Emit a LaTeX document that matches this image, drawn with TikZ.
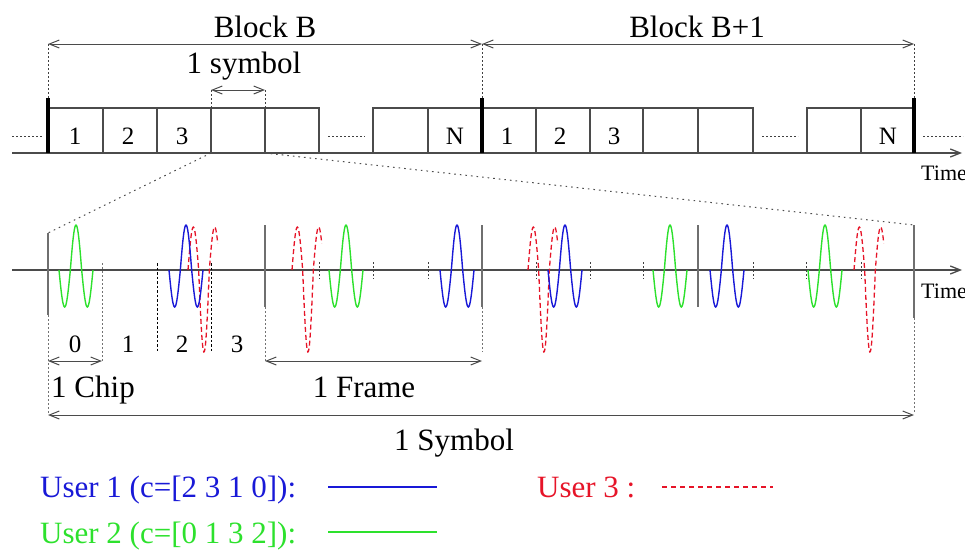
\documentclass[tikz,border=0pt]{standalone}
\usepackage{fontspec}
\setmainfont{Liberation Serif}
\usetikzlibrary{arrows.meta}

\definecolor{lineg}{RGB}{75,75,75}
\definecolor{ublue}{RGB}{25,25,215}
\definecolor{ugreen}{RGB}{45,225,45}
\definecolor{ured}{RGB}{230,20,40}

\tikzset{
  barb/.tip={Straight Barb[length=10pt,width=8pt]},
  axisline/.style={draw=lineg, line width=1.3pt},
  boxline/.style={draw=lineg, line width=1.1pt},
  thickbar/.style={draw=black, line width=4pt},
  dimarrow/.style={draw=lineg, line width=1pt, barb-barb},
  guide/.style={draw=black!75, line width=1pt, dash pattern=on 1.6pt off 2.4pt},
  zoomline/.style={draw=black!70, line width=1pt, dash pattern=on 1.6pt off 4pt},
  framebar/.style={draw=lineg!80, line width=1.3pt},
  chipdash/.style={draw=black, line width=0.9pt, dash pattern=on 2.5pt off 2pt},
  lbl/.style={font=\fontsize{31}{36}\selectfont, inner sep=0pt},
  numlbl/.style={font=\fontsize{25}{30}\selectfont, inner sep=0pt},
  timelbl/.style={font=\fontsize{22}{26}\selectfont, inner sep=0pt},
  bluepulse/.style={draw=ublue, line width=1.4pt},
  greenpulse/.style={draw=ugreen, line width=1.4pt},
  redpulse/.style={draw=ured, line width=1.3pt, dash pattern=on 5pt off 3pt},
  reddash/.style={draw=ured, line width=1.3pt, dash pattern=on 5pt off 4pt},
}

% monocycle-like pulse of users 1 and 2, centred at #1
\newcommand\wavelet[2]{\draw[#2] plot[domain=0:1,samples=61,smooth]
  ({#1-17+34*\x},{270-45*max(-sin(540*\x),0)-37*min(-sin(540*\x),0)});}
% pulse of user 3, centred at #1
\newcommand\redwave[1]{\draw[redpulse] plot[domain=0:0.93,samples=61,smooth]
  ({#1-16+32*\x},{270-43*max(sin(540*\x),0)-82*min(sin(540*\x),0)});}

\begin{document}
\begin{tikzpicture}[x=1pt,y=-1pt]
\useasboundingbox (0,0) rectangle (965,549);

% ---------- upper time line: blocks of N symbols ----------
\draw[axisline,-barb] (12,153) -- (962,153);
\foreach \a/\b in {48/103,103/157,157/211,211/265,265/319,373/428,428/482,
                   482/536,536/590,590/643,643/698,698/753,807/861,861/914}
  {\draw[boxline] (\a,108) rectangle (\b,153);}
\foreach \a/\b in {12/42,328/365,762/798,923/963}
  {\draw[guide] (\a,136) -- (\b,136);}
\foreach \x in {48,482,914}
  {\draw[thickbar] (\x,98) -- (\x,153);}

\foreach \n/\x/\t in {b1/75/1,b2/128/2,b3/182/3,bN/455/N,c1/507/1,c2/560/2,c3/614/3,cN/888/N}
  {\node[numlbl,anchor=base] (\n) at (\x,144) {\t};}

% block extents
\coordinate (bL) at (48,44);
\coordinate (bM) at (482,44);
\coordinate (bR) at (914,44);
\draw[guide] (bL) -- (48,98);
\draw[guide] (bM) -- (482,98);
\draw[guide] (bR) -- (914,98);
\draw[dimarrow] (bL) -- (bM);
\draw[dimarrow] (bM) -- (bR);
\node[lbl,anchor=base] (blockB) at (265,37) {Block B};
\node[lbl,anchor=base] (blockB1) at (697,37) {Block B+1};

% one symbol
\coordinate (sL) at (211,90);
\coordinate (sR) at (265,90);
\draw[guide] (sL) -- (211,108);
\draw[guide] (sR) -- (265,108);
\draw[dimarrow] (sL) -- (sR);
\node[lbl,anchor=base] (onesym) at (244,73) {1 symbol};

\node[timelbl,anchor=base west] (time1) at (921,180) {Time};

% zoom from the symbol to the lower time line
\draw[zoomline] (211,153) -- (48,233);
\draw[zoomline] (265,153) -- (914,225);

% ---------- lower time line: frames and chips ----------
\draw[axisline,-barb] (12,270) -- (962,270);
\node[timelbl,anchor=base west] (time2) at (921,298) {Time};

\draw[framebar] (48,233) -- (48,315);
\foreach \x in {265,482,698}
  {\draw[framebar] (\x,225) -- (\x,307);}
\draw[framebar] (914,225) -- (914,318);

\draw[guide,draw=black!55] (48,315) -- (48,413);
\draw[guide,draw=black!55] (265,307) -- (265,362);
\draw[guide,draw=black!55] (482,307) -- (482,352);
\draw[guide,draw=black!55] (914,318) -- (914,413);

\draw[guide,draw=black!55] (102,263) -- (102,362);
\draw[chipdash] (157,263) -- (157,352);
\draw[chipdash] (211,263) -- (211,352);
\foreach \x in {319,373,428,536,590,643,753,806,861}
  {\draw[guide] (\x,262) -- (\x,279);}

% user 3 pulses
\foreach \cc in {204,308,544,870} {\redwave{\cc}}
% user 1 pulses, c=[2 3 1 0]
\foreach \cc in {186,457,565,727} {\wavelet{\cc}{bluepulse}}
% user 2 pulses, c=[0 1 3 2]
\foreach \cc in {76,346,670,825} {\wavelet{\cc}{greenpulse}}

% chip indices
\foreach \n/\x/\t in {k0/75/0,k1/128/1,k2/182/2,k3/237/3}
  {\node[numlbl,anchor=base] (\n) at (\x,352) {\t};}

% chip, frame and symbol durations
\coordinate (chL) at (48,361);
\coordinate (chR) at (102,361);
\draw[dimarrow] (chL) -- (chR);
\node[lbl,anchor=base] (onechip) at (93,397) {1 Chip};
\coordinate (frL) at (265,361);
\coordinate (frR) at (482,361);
\draw[dimarrow] (frL) -- (frR);
\node[lbl,anchor=base] (oneframe) at (364,397) {1 Frame};
\coordinate (syL) at (48,415);
\coordinate (syR) at (914,415);
\draw[dimarrow] (syL) -- (syR);
\node[lbl,anchor=base] (onesymbol) at (454,450) {1 Symbol};

% ---------- legend ----------
\node[lbl,anchor=base west,text=ublue] (user1) at (40,497) {User 1 (c=[2 3 1 0]):};
\draw[bluepulse,line width=1.2pt] (328,487) coordinate (l1a) -- (437,487) coordinate (l1b);
\node[lbl,anchor=base west,text=ugreen] (user2) at (40,543) {User 2 (c=[0 1 3 2]):};
\draw[greenpulse,line width=1.2pt] (328,532) coordinate (l2a) -- (437,532) coordinate (l2b);
\node[lbl,anchor=base west,text=ured] (user3) at (537,497) {User 3 :};
\draw[reddash] (662,487) coordinate (l3a) -- (773,487) coordinate (l3b);
\end{tikzpicture}
\end{document}
